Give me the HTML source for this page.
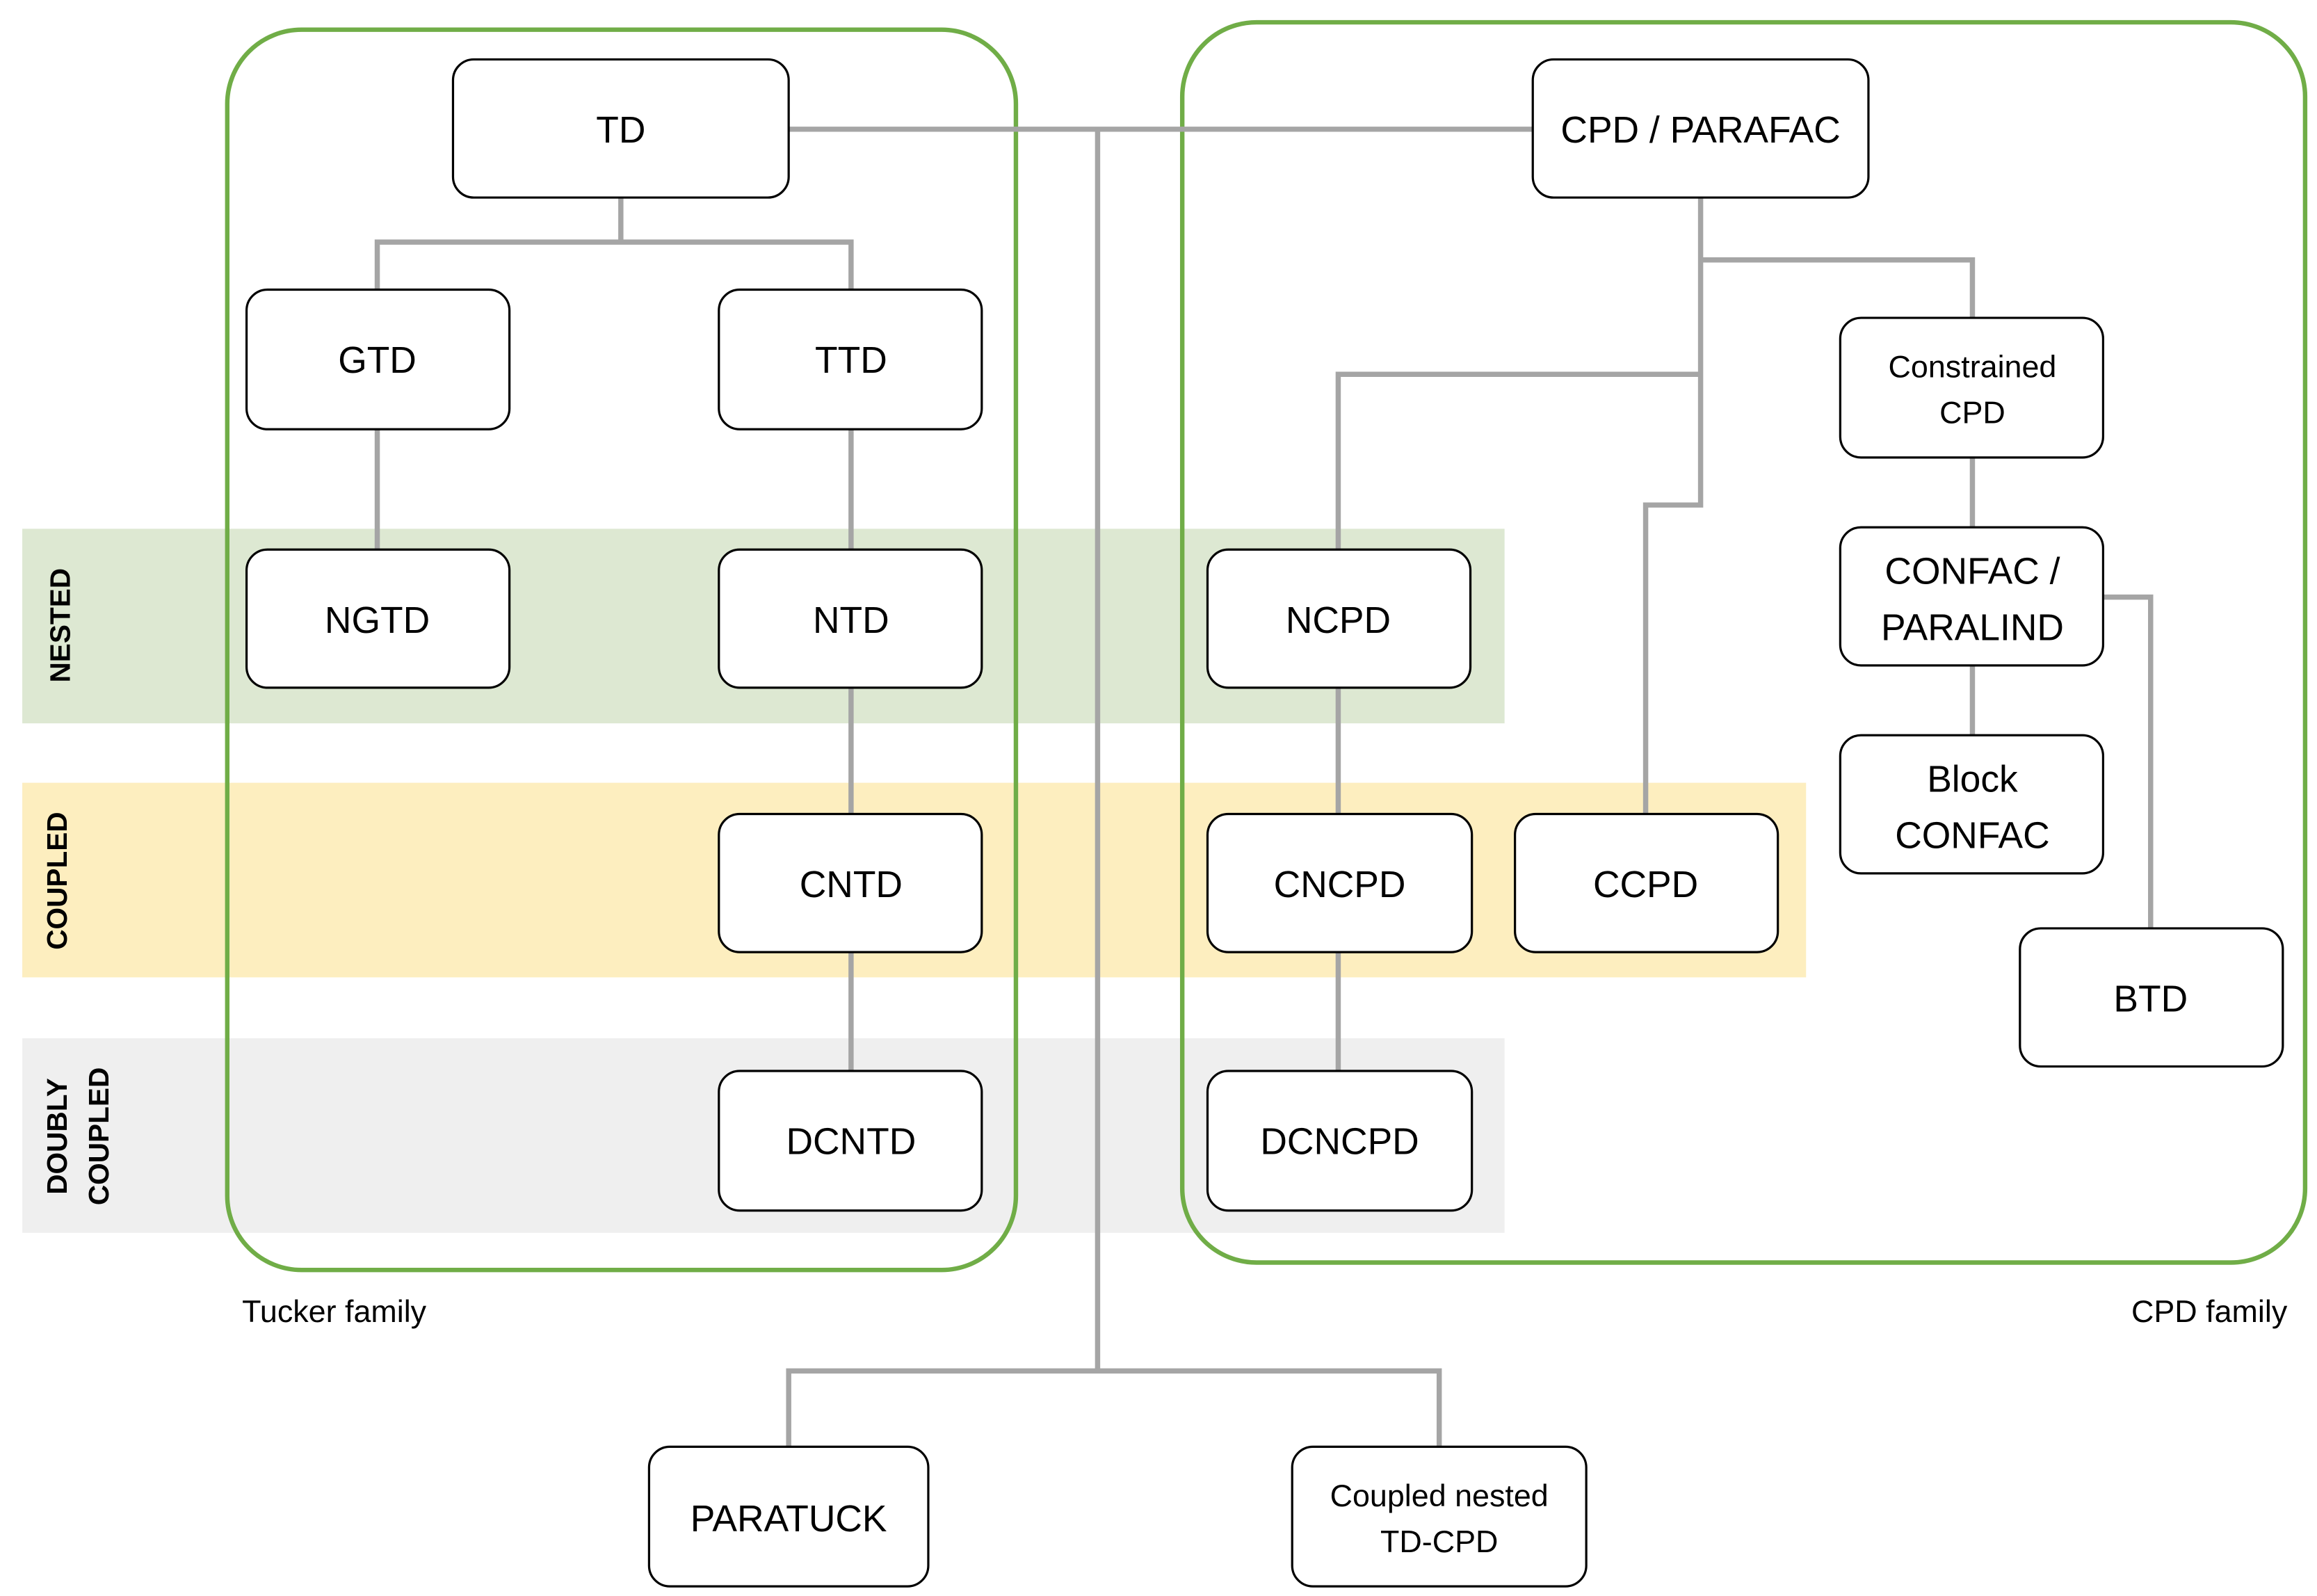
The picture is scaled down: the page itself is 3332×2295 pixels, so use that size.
<!DOCTYPE html>
<html><head><meta charset="utf-8"><style>html,body{margin:0;padding:0;background:#fff}svg{display:block}</style></head>
<body>
<svg width="3332" height="2295" viewBox="0 0 1560 1074.5" xmlns="http://www.w3.org/2000/svg" font-family="'Liberation Sans', sans-serif">
<rect x="0" y="0" width="1560" height="1075" fill="#fff"/>
<rect x="15" y="356" width="998" height="131" fill="#dde8d2"/>
<rect x="15" y="527" width="1201" height="131" fill="#fdeebf"/>
<rect x="15" y="699" width="998" height="131" fill="#efefef"/>
<g font-weight="bold" font-size="19" fill="#000" text-anchor="middle">
<text transform="translate(47,421) rotate(-90)">NESTED</text>
<text transform="translate(45,593) rotate(-90)">COUPLED</text>
<text transform="translate(45,765) rotate(-90)">DOUBLY</text>
<text transform="translate(73,765) rotate(-90)">COUPLED</text>
</g>
<rect x="153" y="20" width="531" height="835" rx="50" fill="none" stroke="#70ad47" stroke-width="3"/>
<rect x="796" y="15" width="756" height="835" rx="50" fill="none" stroke="#70ad47" stroke-width="3"/>
<g fill="none" stroke="#a5a5a5" stroke-width="3.5">
<polyline points="531,87 1032,87"/>
<polyline points="739,87 739,923"/>
<polyline points="531,974 531,923 969,923 969,974"/>
<polyline points="418,133 418,163"/>
<polyline points="254,195 254,163 573,163 573,195"/>
<line x1="254" y1="289" x2="254" y2="370"/>
<line x1="573" y1="289" x2="573" y2="370"/>
<line x1="573" y1="463" x2="573" y2="548"/>
<line x1="573" y1="641" x2="573" y2="721"/>
<polyline points="1145,133 1145,340 1108,340 1108,548"/>
<polyline points="1145,175 1328,175 1328,214"/>
<polyline points="1145,252 901,252 901,370"/>
<line x1="901" y1="463" x2="901" y2="548"/>
<line x1="901" y1="641" x2="901" y2="721"/>
<line x1="1328" y1="308" x2="1328" y2="355"/>
<line x1="1328" y1="448" x2="1328" y2="495"/>
<polyline points="1416,402 1448,402 1448,625"/>
</g>
<g fill="#fff" stroke="#000" stroke-width="1.5">
<rect x="305" y="40" width="226" height="93" rx="14"/>
<rect x="1032" y="40" width="226" height="93" rx="14"/>
<rect x="166" y="195" width="177" height="94" rx="14"/>
<rect x="484" y="195" width="177" height="94" rx="14"/>
<rect x="166" y="370" width="177" height="93" rx="14"/>
<rect x="484" y="370" width="177" height="93" rx="14"/>
<rect x="813" y="370" width="177" height="93" rx="14"/>
<rect x="484" y="548" width="177" height="93" rx="14"/>
<rect x="813" y="548" width="178" height="93" rx="14"/>
<rect x="1020" y="548" width="177" height="93" rx="14"/>
<rect x="484" y="721" width="177" height="94" rx="14"/>
<rect x="813" y="721" width="178" height="94" rx="14"/>
<rect x="1239" y="214" width="177" height="94" rx="14"/>
<rect x="1239" y="355" width="177" height="93" rx="14"/>
<rect x="1239" y="495" width="177" height="93" rx="14"/>
<rect x="1360" y="625" width="177" height="93" rx="14"/>
<rect x="437" y="974" width="188" height="94" rx="14"/>
<rect x="870" y="974" width="198" height="94" rx="14"/>
</g>
<g font-size="25" fill="#000" text-anchor="middle">
<text x="418" y="96">TD</text>
<text x="1145" y="96">CPD / PARAFAC</text>
<text x="254" y="251">GTD</text>
<text x="573" y="251">TTD</text>
<text x="254" y="426">NGTD</text>
<text x="573" y="426">NTD</text>
<text x="901" y="426">NCPD</text>
<text x="573" y="604">CNTD</text>
<text x="902" y="604">CNCPD</text>
<text x="1108" y="604">CCPD</text>
<text x="573" y="777">DCNTD</text>
<text x="902" y="777">DCNCPD</text>
<text x="1328" y="393">CONFAC /</text>
<text x="1328" y="431">PARALIND</text>
<text x="1328" y="533">Block</text>
<text x="1328" y="571">CONFAC</text>
<text x="1448" y="681">BTD</text>
<text x="531" y="1031">PARATUCK</text>
</g>
<g font-size="21" fill="#000" text-anchor="middle">
<text x="1328" y="254">Constrained</text>
<text x="1328" y="285">CPD</text>
<text x="969" y="1014">Coupled nested</text>
<text x="969" y="1045">TD-CPD</text>
</g>
<g font-size="21" fill="#000">
<text x="163" y="890">Tucker family</text>
<text x="1540" y="890" text-anchor="end">CPD family</text>
</g>
</svg>
</body></html>
